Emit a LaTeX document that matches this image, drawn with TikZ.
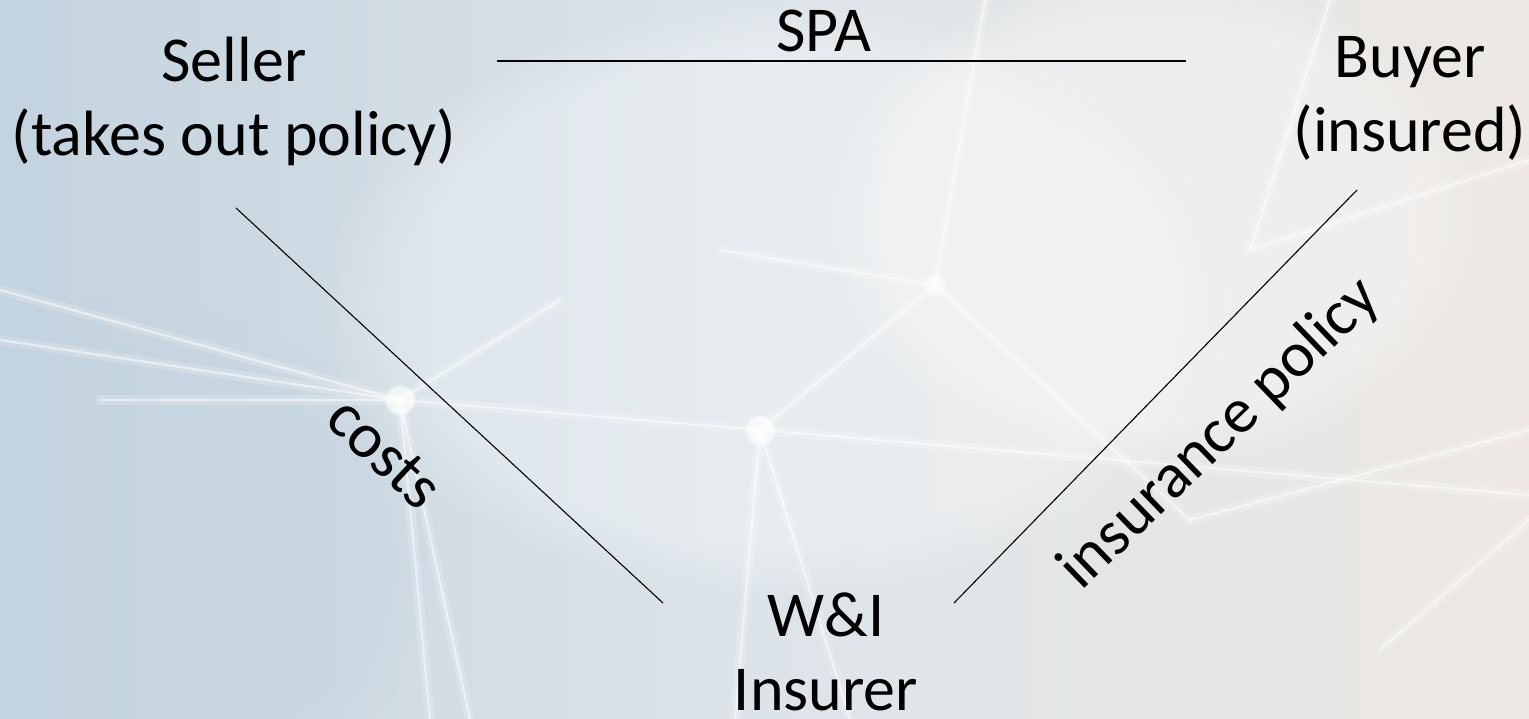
\documentclass[tikz,border=0pt]{standalone}
\usepackage{fontspec}
\setmainfont{Carlito}
\usetikzlibrary{fadings}
\definecolor{bgL}{HTML}{C3D3DF}
\definecolor{bgM}{HTML}{DDE4E9}
\definecolor{bgR}{HTML}{EDE8E3}
\tikzset{
  lbl/.style={font=\fontsize{64}{74}\selectfont, align=center, inner sep=0pt, text=black},
  conn/.style={draw=black, line width=1.1pt},
  glow/.style={white, line width=10pt, opacity=0.18, line cap=round},
  ray/.style={white, line width=2.2pt, opacity=0.5, line cap=round}
}
\begin{document}
\begin{tikzpicture}[x=1pt,y=-1pt]
% background
\useasboundingbox (0,0) rectangle (1529,719);
\shade[left color=bgL, right color=bgR, middle color=bgM] (0,0) rectangle (1529,719);
\fill[white, opacity=0.3, path fading=circle with fuzzy edge 20 percent] (780,300) ellipse (460 and 300);
\fill[white, opacity=0.3, path fading=circle with fuzzy edge 20 percent] (1150,220) ellipse (330 and 250);
\fill[bgL, opacity=0.3, path fading=circle with fuzzy edge 20 percent] (120,560) ellipse (320 and 260);
% network glow lines
\foreach \a/\b in {{(0,290)}/{(400,400)}, {(0,340)}/{(400,400)}, {(400,400)}/{(760,430)}, {(760,430)}/{(1529,495)},
  {(400,400)}/{(560,300)}, {(400,400)}/{(470,719)}, {(400,400)}/{(430,719)}, {(760,430)}/{(935,285)},
  {(935,285)}/{(985,0)}, {(935,285)}/{(1190,520)}, {(760,430)}/{(735,719)}, {(760,430)}/{(850,719)},
  {(935,285)}/{(720,250)}, {(1190,520)}/{(1529,430)}, {(1250,250)}/{(1330,0)}, {(1250,250)}/{(1529,160)},
  {(1380,650)}/{(1529,520)}, {(100,400)}/{(400,400)}}
{ \draw[glow] \a -- \b; \draw[ray] \a -- \b; }
\fill[white, opacity=0.7, path fading=circle with fuzzy edge 20 percent] (400,400) circle (16);
\fill[white, opacity=0.7, path fading=circle with fuzzy edge 20 percent] (760,430) circle (16);
\fill[white, opacity=0.5, path fading=circle with fuzzy edge 20 percent] (935,285) circle (12);

% nodes (anchor = baseline of the last line)
\node[lbl, anchor=base] (seller) at (234,156) {Seller\\(takes out policy)};
\node[lbl, anchor=base] (buyer) at (1410,152) {Buyer\\(insured)};
\node[lbl, anchor=base] (insurer) at (826,710) {W\&I\\Insurer};
\node[lbl, anchor=base] (spa) at (824,52) {SPA};

\coordinate (spaL) at (497,61);
\coordinate (spaR) at (1186,61);
\coordinate (selEnd) at (236,208);
\coordinate (insL) at (663,603);
\coordinate (insR) at (954,603);
\coordinate (buyEnd) at (1357,190);

\draw[conn] (spaL) -- (spaR);
\draw[conn] (selEnd) -- (insL);
\draw[conn] (buyEnd) -- (insR);

\node[lbl, rotate=-43] (costs) at (385,453) {costs};
\node[lbl, rotate=44] (policy) at (1220,434) {insurance policy};
\end{tikzpicture}
\end{document}
